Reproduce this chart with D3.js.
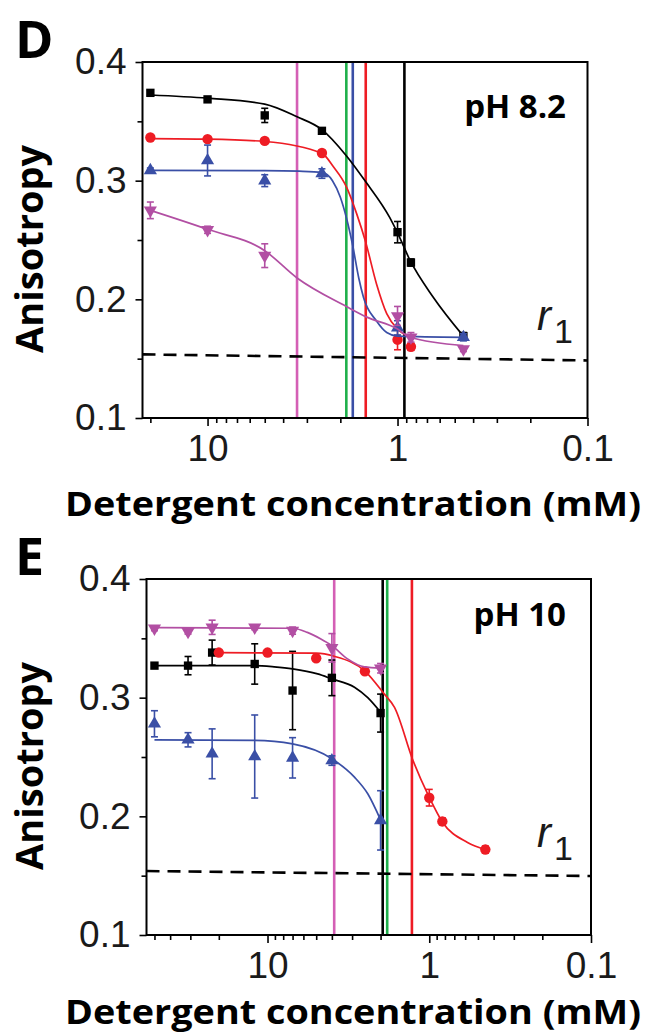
<!DOCTYPE html>
<html>
<head>
<meta charset="utf-8">
<script src="https://cdn.jsdelivr.net/npm/d3@7"></script>
<style>
  body { margin: 0; background: #fff; }
  svg text { font-family: "Liberation Sans", Arial, sans-serif; fill: #1a1a1a; }
  .bold { font-family: "Open Sans", Lato, sans-serif; font-weight: bold; fill: #000; font-variant-ligatures: none; }
</style>
</head>
<body>
<svg id="chart" width="652" height="1034"></svg>
<script>
///////////////////////////////////////////////////////////
// Data (concentration in mM, anisotropy)

const yTicks = [0.1, 0.2, 0.3, 0.4];
const yMinorTicks = [0.15, 0.25, 0.35];
const xTicks = [10, 1, 0.1];

// Panel D, pH 8.2
const dBlackConc = [20, 10, 5, 2.5, 1, 0.85, 0.45];
const dBlackVal = [0.374, 0.3685, 0.355, 0.342, 0.2566, 0.231, 0.169];
const dBlackErr = [0.002, 0.002, 0.006, 0.002, 0.009, 0.003, 0.003];
const dRedConc = [20, 10, 5, 2.5, 1, 0.85];
const dRedVal = [0.3364, 0.335, 0.3335, 0.3233, 0.166, 0.16];
const dRedErr = [0.002, 0.002, 0.002, 0.002, 0.0085, 0.003];
const dBlueConc = [20, 10, 5, 2.5, 1, 0.45];
const dBlueVal = [0.3087, 0.317, 0.3, 0.306, 0.176, 0.168];
const dBlueErr = [0.002, 0.013, 0.005, 0.004, 0.006, 0.003];
const dMagConc = [20, 10, 5, 1, 0.85, 0.45];
const dMagVal = [0.275, 0.2586, 0.2368, 0.186, 0.168, 0.158];
const dMagErr = [0.007, 0.003, 0.01, 0.008, 0.004, 0.002];

// fitted curves, panel D
const dBlackFitConc = [20, 10, 5, 3.4, 2.5, 1.86, 1.47, 1.1, 1.0, 0.86, 0.65, 0.45];
const dBlackFitVal = [0.3722, 0.3695, 0.3645, 0.354, 0.343, 0.321, 0.299, 0.269, 0.256, 0.233, 0.202, 0.169];
const dRedFitConc = [20, 10, 5, 2.5, 2.17, 1.86, 1.64, 1.47, 1.29, 1.14, 1.0, 0.86];
const dRedFitVal = [0.3355, 0.335, 0.333, 0.323, 0.3115, 0.295, 0.272, 0.248, 0.213, 0.188, 0.175, 0.168];
const dBlueFitConc = [20, 5, 3.3, 2.5, 2.2, 2.0, 1.86, 1.72, 1.6, 1.51, 1.29, 1.14, 1.0, 0.45];
const dBlueFitVal = [0.3087, 0.3085, 0.308, 0.307, 0.3, 0.286, 0.269, 0.245, 0.218, 0.2016, 0.1817, 0.172, 0.169, 0.168];
const dMagFitConc = [20, 10, 5, 3.38, 1.86, 1.45, 1.0, 0.86, 0.45];
const dMagFitVal = [0.275, 0.259, 0.241, 0.218, 0.194, 0.185, 0.175, 0.168, 0.161];

// CMC markers, panel D
const dCmcNames = ["magenta", "green", "blue", "red", "black"];
const dCmcConc = [3.38, 1.86, 1.72, 1.47, 0.92];

// r1 baseline, panel D (left end, right end)
const dR1Conc = [22, 0.1];
const dR1Val = [0.1536, 0.1485];

// Panel E, pH 10
const eConc = [50, 31, 22, 12, 7, 4, 2];
const eBlackVal = [0.327, 0.327, 0.338, 0.3284, 0.306, 0.3167, 0.287];
const eBlackErr = [0.002, 0.0077, 0.0105, 0.017, 0.033, 0.015, 0.016];
const eMagVal = [0.3584, 0.3556, 0.3593, 0.3593, 0.3565, 0.342, 0.3248];
const eMagErr = [0.002, 0.002, 0.006, 0.002, 0.003, 0.012, 0.004];
const eBlueVal = [0.278, 0.2645, 0.2527, 0.2504, 0.2493, 0.247, 0.1966];
const eBlueErr = [0.011, 0.006, 0.021, 0.035, 0.017, 0.004, 0.025];
const eRedConc = [20, 10, 5, 2.5, 1, 0.83, 0.45];
const eRedVal = [0.338, 0.338, 0.3332, 0.3222, 0.2157, 0.1957, 0.172];
const eRedErr = [0.002, 0.002, 0.002, 0.002, 0.007, 0.003, 0.003];

// fitted curves, panel E
const eBlackFitConc = [50, 12, 9.1, 7, 4.9, 4, 2.9, 2.4, 2];
const eBlackFitVal = [0.327, 0.327, 0.326, 0.3243, 0.32, 0.3158, 0.3088, 0.3, 0.2877];
const eMagFitConc = [50, 7, 5.67, 4.68, 4, 3.2, 2.52, 2];
const eMagFitVal = [0.359, 0.3585, 0.355, 0.3495, 0.3439, 0.3327, 0.326, 0.325];
const eBlueFitConc = [50, 12, 7, 4, 2.9, 2.4, 2];
const eBlueFitVal = [0.2645, 0.264, 0.261, 0.2485, 0.233, 0.219, 0.197];
const eRedFitConc = [20, 5, 3.87, 2.49, 1.9, 1.64, 1.26, 1.0, 0.834, 0.58, 0.45];
const eRedFitVal = [0.338, 0.3375, 0.3349, 0.3222, 0.3032, 0.2919, 0.247, 0.216, 0.1957, 0.178, 0.172];

// CMC markers, panel E
const eCmcNames = ["magenta", "black", "green", "red"];
const eCmcConc = [3.87, 1.94, 1.82, 1.28];

const eR1Conc = [56, 0.1];
const eR1Val = [0.1539, 0.1497];

///////////////////////////////////////////////////////////
// Colours and helpers

const seriesColor = { black: "#000000", red: "#ee1c24", blue: "#3a4fa6", magenta: "#b24fa3" };
const cmcColor = { black: "#000000", red: "#ee1c24", blue: "#3a4fa6", magenta: "#d45fb5", green: "#1fb04b" };

const zip = (xs, ys, es) => xs.map((c, i) => ({ c: c, v: ys[i], e: es ? es[i] : 0 }));

const svg = d3.select("#chart");

const panels = [
  {
    letter: "D", ph: "pH 8.2", phY: 118, titleY: 516,
    left: 142.5, right: 587.5, top: 62, bottom: 418,
    xDomain: [22, 0.1],
    series: [
      { color: "black", shape: "square", pts: zip(dBlackConc, dBlackVal, dBlackErr), fit: zip(dBlackFitConc, dBlackFitVal) },
      { color: "red", shape: "circle", pts: zip(dRedConc, dRedVal, dRedErr), fit: zip(dRedFitConc, dRedFitVal) },
      { color: "blue", shape: "up", pts: zip(dBlueConc, dBlueVal, dBlueErr), fit: zip(dBlueFitConc, dBlueFitVal) },
      { color: "magenta", shape: "down", pts: zip(dMagConc, dMagVal, dMagErr), fit: zip(dMagFitConc, dMagFitVal) }
    ],
    cmc: dCmcNames.map((n, i) => ({ name: n, c: dCmcConc[i] })),
    r1: zip(dR1Conc, dR1Val)
  },
  {
    letter: "E", ph: "pH 10", phY: 626, titleY: 1024,
    left: 146.5, right: 591, top: 579, bottom: 935,
    xDomain: [56, 0.1],
    series: [
      { color: "black", shape: "square", pts: zip(eConc, eBlackVal, eBlackErr), fit: zip(eBlackFitConc, eBlackFitVal) },
      { color: "blue", shape: "up", pts: zip(eConc, eBlueVal, eBlueErr), fit: zip(eBlueFitConc, eBlueFitVal) },
      { color: "red", shape: "circle", pts: zip(eRedConc, eRedVal, eRedErr), fit: zip(eRedFitConc, eRedFitVal) },
      { color: "magenta", shape: "down", pts: zip(eConc, eMagVal, eMagErr), fit: zip(eMagFitConc, eMagFitVal) }
    ],
    cmc: eCmcNames.map((n, i) => ({ name: n, c: eCmcConc[i] })),
    r1: zip(eR1Conc, eR1Val)
  }
];

const symbolFor = {
  square: d3.symbol().type(d3.symbolSquare).size(70),
  circle: d3.symbol().type(d3.symbolCircle).size(85),
  up: d3.symbol().type(d3.symbolTriangle).size(75),
  down: d3.symbol().type(d3.symbolTriangle).size(75)
};

///////////////////////////////////////////////////////////
// Draw one panel

function drawPanel(p) {
  const g = svg.append("g");
  const x = d3.scaleLog().domain(p.xDomain).range([p.left, p.right]);
  const y = d3.scaleLinear().domain([0.1, 0.4]).range([p.bottom, p.top]);

  // CMC vertical lines
  g.selectAll(".cmc")
    .data(p.cmc)
    .enter().append("line")
    .attr("x1", d => x(d.c)).attr("x2", d => x(d.c))
    .attr("y1", p.top).attr("y2", p.bottom)
    .attr("stroke", d => cmcColor[d.name])
    .attr("stroke-width", 2.6);

  // r1 dashed line
  g.append("path")
    .datum(p.r1)
    .attr("d", d3.line().x(d => x(d.c)).y(d => y(d.v)))
    .attr("fill", "none")
    .attr("stroke", "#000")
    .attr("stroke-width", 2.6)
    .attr("stroke-dasharray", "13,8");

  const fitLine = d3.line()
    .x(d => x(d.c))
    .y(d => y(d.v))
    .curve(d3.curveMonotoneX);

  p.series.forEach(s => {
    const col = seriesColor[s.color];

    g.append("path")
      .datum(s.fit)
      .attr("d", fitLine)
      .attr("fill", "none")
      .attr("stroke", col)
      .attr("stroke-width", 1.7);

    // error bars
    const eb = g.append("g").attr("stroke", col).attr("stroke-width", 1.6);
    s.pts.forEach(d => {
      const cx = x(d.c), y0 = y(d.v - d.e), y1 = y(d.v + d.e);
      eb.append("line").attr("x1", cx).attr("x2", cx).attr("y1", y0).attr("y2", y1);
      eb.append("line").attr("x1", cx - 3.5).attr("x2", cx + 3.5).attr("y1", y0).attr("y2", y0);
      eb.append("line").attr("x1", cx - 3.5).attr("x2", cx + 3.5).attr("y1", y1).attr("y2", y1);
    });

    g.selectAll(null)
      .data(s.pts)
      .enter().append("path")
      .attr("d", symbolFor[s.shape])
      .attr("transform", d => `translate(${x(d.c)},${y(d.v)})` + (s.shape === "down" ? " rotate(180)" : ""))
      .attr("fill", col);
  });

  // axes
  const minorX = x.ticks().filter(t => !xTicks.some(m => Math.abs(m - t) < 1e-9));

  g.append("g")
    .attr("transform", `translate(0,${p.bottom})`)
    .call(d3.axisBottom(x).tickValues(minorX).tickSize(5).tickFormat(""))
    .call(a => a.select(".domain").remove());

  g.append("g")
    .attr("transform", `translate(0,${p.bottom})`)
    .call(d3.axisBottom(x).tickValues(xTicks).tickFormat(d3.format("~g")).tickSize(8).tickPadding(9))
    .call(a => a.select(".domain").remove())
    .selectAll("text").attr("font-size", 37);

  g.append("g")
    .attr("transform", `translate(${p.left},0)`)
    .call(d3.axisLeft(y).tickValues(yMinorTicks).tickSize(5).tickFormat(""))
    .call(a => a.select(".domain").remove());

  g.append("g")
    .attr("transform", `translate(${p.left},0)`)
    .call(d3.axisLeft(y).tickValues(yTicks).tickFormat(d3.format(".1f")).tickSize(7).tickPadding(9))
    .call(a => a.select(".domain").remove())
    .selectAll("text").attr("font-size", 37);

  g.selectAll(".tick line").attr("stroke", "#000").attr("stroke-width", 1.6);

  // frame
  g.append("rect")
    .attr("x", p.left).attr("y", p.top)
    .attr("width", p.right - p.left).attr("height", p.bottom - p.top)
    .attr("fill", "none").attr("stroke", "#000").attr("stroke-width", 2);

  // labels
  g.append("text").attr("class", "bold")
    .attr("x", 15).attr("y", p.top - 4)
    .attr("font-size", 52)
    .text(p.letter);

  g.append("text").attr("class", "bold")
    .attr("x", 566).attr("y", p.phY)
    .attr("text-anchor", "end")
    .attr("font-size", 33)
    .text(p.ph);

  const r1 = g.append("text")
    .attr("x", 537).attr("y", p.top + 268)
    .attr("font-size", 42);
  r1.append("tspan").attr("font-style", "italic").text("r");
  r1.append("tspan").attr("font-size", 34).attr("dy", 13).attr("dx", 3).text("1");

  g.append("text").attr("class", "bold")
    .attr("transform", `translate(43,${p.top + 291}) rotate(-90)`)
    .attr("font-size", 38)
    .text("Anisotropy");

  g.append("text").attr("class", "bold")
    .attr("x", 65).attr("y", p.titleY)
    .attr("font-size", 34)
    .attr("textLength", 576)
    .attr("lengthAdjust", "spacingAndGlyphs")
    .text("Detergent concentration (mM)");
}

panels.forEach(drawPanel);
</script>
</body>
</html>
